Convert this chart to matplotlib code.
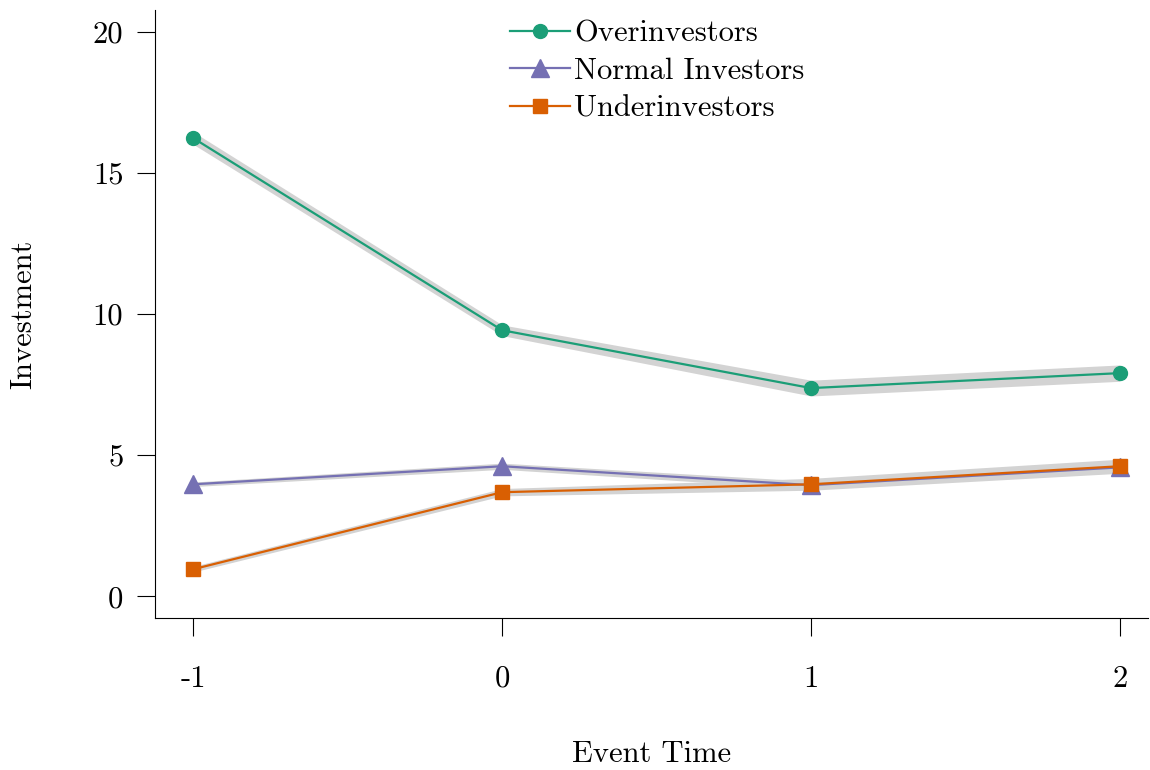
import numpy as np
import matplotlib
matplotlib.use("Agg")
import matplotlib.pyplot as plt

plt.rcParams['font.family'] = ['cmr10', 'DejaVu Serif']
plt.rcParams['axes.unicode_minus'] = False
plt.rcParams['axes.formatter.use_mathtext'] = True

# ----------- data -----------
event_time = [-1, 0, 1, 2]
tick_labels = ['-1', '0', '1', '2']

over_mean = [16.24, 9.43, 7.38, 7.91]
over_lo = [16.02, 9.24, 7.10, 7.62]
over_hi = [16.46, 9.62, 7.66, 8.20]

normal_mean = [3.97, 4.61, 3.94, 4.57]
normal_lo = [3.89, 4.50, 3.80, 4.42]
normal_hi = [4.05, 4.72, 4.08, 4.72]

under_mean = [0.96, 3.69, 3.97, 4.61]
under_lo = [0.86, 3.56, 3.76, 4.36]
under_hi = [1.06, 3.82, 4.18, 4.86]

series = [
    ("Overinvestors", over_mean, over_lo, over_hi, '#1b9e77', 'o', 10),
    ("Normal Investors", normal_mean, normal_lo, normal_hi, '#7570b3', '^', 13),
    ("Underinvestors", under_mean, under_lo, under_hi, '#d95f02', 's', 10),
]

FS = 22

fig = plt.figure(figsize=(11.5, 7.7), dpi=100)
ax = fig.add_axes([0.135, 0.197, 0.863, 0.79])

# confidence bands first, then the lines on top
for name, m, lo, hi, col, mk, ms in series:
    ax.fill_between(event_time, lo, hi, color='#d3d3d3', lw=0, zorder=1)
for name, m, lo, hi, col, mk, ms in series:
    ax.plot(event_time, m, color=col, marker=mk, markersize=ms, lw=1.6,
            label=name, zorder=3)

ax.set_xlim(-1.123, 2.09)
ax.set_ylim(-0.78, 20.78)
ax.set_xticks(event_time)
ax.set_xticklabels(tick_labels)
ax.set_yticks([0, 5, 10, 15, 20])
ax.set_yticklabels(['0', '5', '10', '15', '20'])

for side in ('top', 'right'):
    ax.spines[side].set_visible(False)
ax.tick_params(axis='both', direction='out', length=13, width=0.8, labelsize=FS)
ax.tick_params(axis='x', pad=21)
ax.tick_params(axis='y', pad=10)

ax.set_xlabel('Event Time', fontsize=FS, labelpad=34)
ax.set_ylabel('Investment', fontsize=FS, labelpad=40)

ax.legend(loc='upper left', bbox_to_anchor=(0.426, 1.0), bbox_transform=fig.transFigure,
          frameon=False, fontsize=FS, handlelength=1.97, handletextpad=0.13,
          labelspacing=0.33, borderpad=0.15)

fig.savefig('out.png', dpi=100)
